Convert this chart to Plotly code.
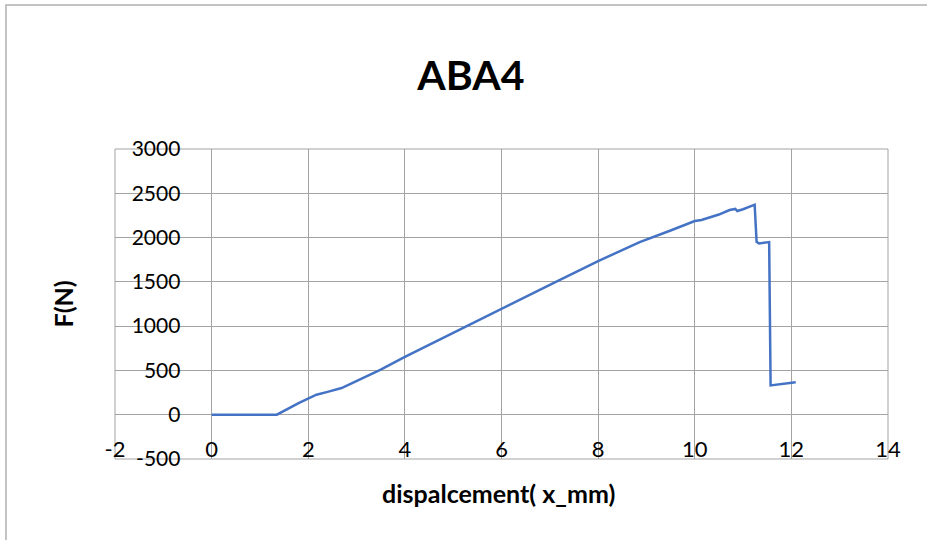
import plotly.graph_objects as go

# Data
disp_mm = [0, 0.5, 1.0, 1.35, 1.8, 2.17, 2.4, 2.69, 3.5, 4.0, 5.0, 6.0, 7.0, 8.0,
           8.86, 9.5, 10.0, 10.14, 10.5, 10.72, 10.84, 10.88, 11.0, 11.24, 11.26,
           11.28, 11.33, 11.54, 11.57, 12.09]
force_n = [0, 0, 0, 0, 130, 226, 258, 301, 510, 652, 925, 1191, 1465, 1734,
           1949, 2080, 2187, 2198, 2260, 2311, 2323, 2300, 2320, 2371, 2161,
           1952, 1934, 1949, 331, 366]

x_tickvals = [-2, 0, 2, 4, 6, 8, 10, 12, 14]
x_ticktext = ["-2", "0", "2", "4", "6", "8", "10", "12", "14"]
y_tickvals = [-500, 0, 500, 1000, 1500, 2000, 2500, 3000]
y_ticktext = ["-500", "0", "500", "1000", "1500", "2000", "2500", "3000"]

title_text = "ABA4"
x_title = "dispalcement( x_mm)"
y_title = "F(N)"

grid = "#a3a3a3"
font_family = "Lato, Open Sans, sans-serif"

xr = [-2, 14]
yr = [-500, 3000]

fig = go.Figure()
fig.add_trace(go.Scatter(
    x=disp_mm, y=force_n, mode="lines",
    line=dict(color="#4472C4", width=2.5),
    showlegend=False, hoverinfo="skip",
))

fig.update_layout(
    width=927, height=540,
    margin=dict(l=115, r=39, t=149, b=81),
    paper_bgcolor="white", plot_bgcolor="white",
    font=dict(family=font_family, color="black"),
    title=dict(text=title_text, x=471 / 927, xref="container", xanchor="center",
               y=1 - 76 / 540, yref="container", yanchor="middle",
               font=dict(size=41, family=font_family, color="black", weight="bold")),
    xaxis=dict(
        range=xr, tickvals=x_tickvals, ticktext=x_ticktext,
        showgrid=True, gridcolor=grid, gridwidth=1, zeroline=False, showline=False,
        anchor="free", position=(0 - yr[0]) / (yr[1] - yr[0]),
        ticks="outside", ticklen=15, tickcolor="rgba(0,0,0,0)",
        tickfont=dict(size=22, family=font_family, color="black"),
    ),
    yaxis=dict(
        range=yr, tickvals=y_tickvals, ticktext=y_ticktext,
        showgrid=True, gridcolor=grid, gridwidth=1, zeroline=False, showline=False,
        anchor="free", position=(0 - xr[0]) / (xr[1] - xr[0]),
        ticks="outside", ticklen=27, tickcolor="rgba(0,0,0,0)",
        tickfont=dict(size=21, family=font_family, color="black"),
    ),
    shapes=[
        dict(type="rect", xref="x domain", yref="y domain", x0=0, x1=1, y0=0, y1=1,
             line=dict(color=grid, width=1), fillcolor="rgba(0,0,0,0)", layer="below"),
        dict(type="rect", xref="paper", yref="paper",
             x0=(6 - 115) / 773, x1=1.2, y0=-0.5, y1=(459 - 5) / 310,
             line=dict(color="#b0b0b0", width=1.5), fillcolor="rgba(0,0,0,0)",
             layer="below"),
    ],
    annotations=[
        dict(text=x_title, xref="paper", yref="paper",
             x=(498 - 115) / 773, y=(459 - 493) / 310,
             xanchor="center", yanchor="middle", showarrow=False,
             font=dict(size=25, family=font_family, color="black", weight="bold")),
        dict(text=y_title, xref="paper", yref="paper",
             x=(62.5 - 115) / 773, y=(459 - 304) / 310,
             xanchor="center", yanchor="middle", showarrow=False, textangle=-90,
             font=dict(size=25, family=font_family, color="black", weight="bold")),
    ],
)

fig.write_html("out.html")
